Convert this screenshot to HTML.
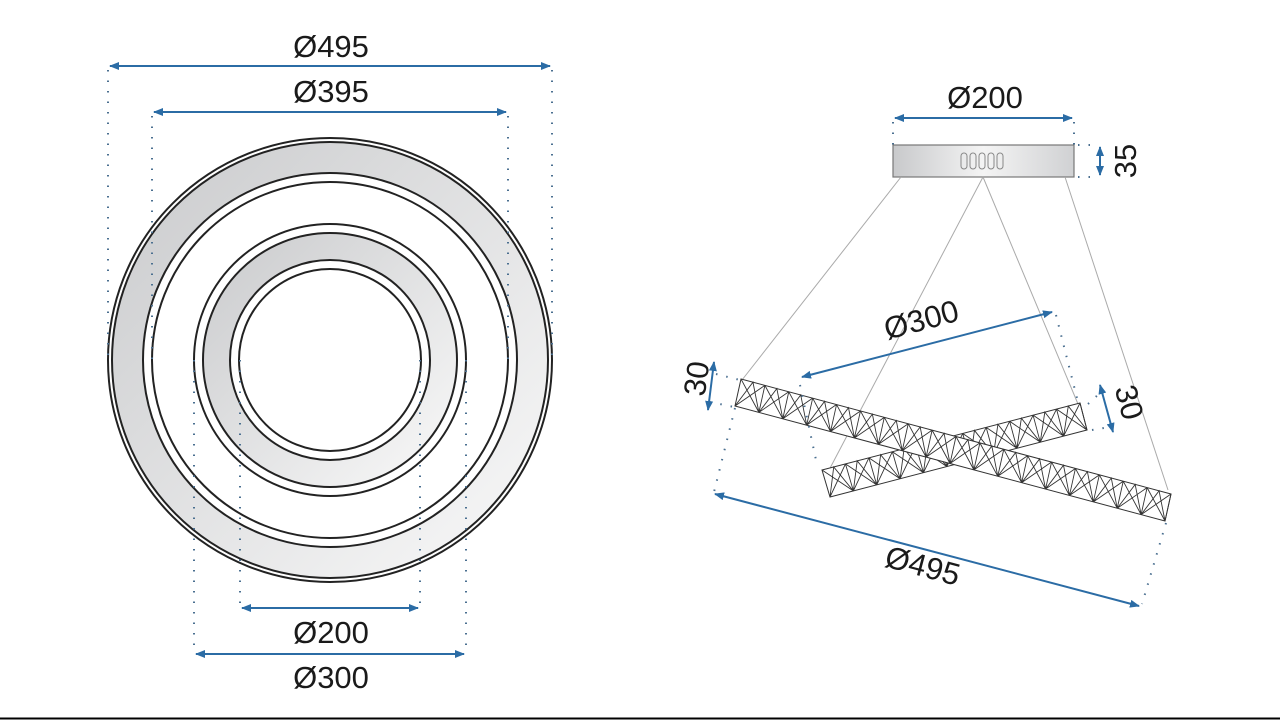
<!DOCTYPE html>
<html><head><meta charset="utf-8"><style>
html,body{margin:0;padding:0;background:#fff;width:1280px;height:720px;overflow:hidden}
svg{display:block}
text{font-family:"Liberation Sans",sans-serif;fill:#1a1a1a}
</style></head><body>
<svg id="s" width="1280" height="720" viewBox="0 0 1280 720" xmlns="http://www.w3.org/2000/svg">
<defs>
<linearGradient id="g" x1="0" y1="0" x2="1" y2="1">
<stop offset="0" stop-color="#c9cacc"/><stop offset="1" stop-color="#fafafa"/></linearGradient>
<linearGradient id="gc" x1="0" y1="0" x2="1" y2="0">
<stop offset="0" stop-color="#c8c9cb"/><stop offset="0.5" stop-color="#f4f4f4"/><stop offset="1" stop-color="#d0d1d3"/></linearGradient>
<marker id="a" viewBox="0 0 10 10" refX="9" refY="5" markerWidth="5" markerHeight="5" orient="auto-start-reverse"><path d="M0,1 L10,5 L0,9 z" fill="#2b6ca5"/></marker>
</defs>
<g stroke="#222" stroke-width="2">
<circle cx="330" cy="360" r="222" fill="#fff"/>
<circle cx="330" cy="360" r="218" fill="url(#g)"/>
<circle cx="330" cy="360" r="187" fill="#fff"/>
<circle cx="330" cy="360" r="178" fill="#fff"/>
<circle cx="330" cy="360" r="136" fill="#fff"/>
<circle cx="330" cy="360" r="127" fill="url(#g)"/>
<circle cx="330" cy="360" r="100" fill="#fff"/>
<circle cx="330" cy="360" r="91" fill="#fff"/>
</g>
<g stroke="#4a6f90" stroke-width="2" stroke-dasharray="1.5 9" fill="none">
<line x1="108" y1="70" x2="108" y2="360"/><line x1="552" y1="70" x2="552" y2="360"/>
<line x1="152" y1="116" x2="152" y2="360"/><line x1="508" y1="116" x2="508" y2="360"/>
<line x1="240" y1="360" x2="240" y2="605"/><line x1="420" y1="360" x2="420" y2="605"/>
<line x1="194" y1="360" x2="194" y2="650"/><line x1="466" y1="360" x2="466" y2="650"/>
</g>
<g stroke="#2b6ca5" stroke-width="2" marker-start="url(#a)" marker-end="url(#a)">
<line x1="110" y1="66" x2="550" y2="66"/>
<line x1="154" y1="112" x2="506" y2="112"/>
<line x1="242" y1="608" x2="418" y2="608"/>
<line x1="196" y1="654" x2="464" y2="654"/>
</g>
<g font-size="31" text-anchor="middle">
<text x="331" y="57">Ø495</text>
<text x="331" y="102">Ø395</text>
<text x="331" y="643">Ø200</text>
<text x="331" y="688">Ø300</text>
</g>
<rect x="893" y="145" width="181" height="32" fill="url(#gc)" stroke="#777" stroke-width="1.2"/>
<g fill="none" stroke="#888" stroke-width="1">
<rect x="961" y="153" width="6" height="16" rx="3"/><rect x="970" y="153" width="6" height="16" rx="3"/><rect x="979" y="153" width="6" height="16" rx="3"/><rect x="988" y="153" width="6" height="16" rx="3"/><rect x="997" y="153" width="6" height="16" rx="3"/>
</g>
<g stroke="#aaa" stroke-width="1">
<line x1="901" y1="177" x2="742" y2="380"/>
<line x1="983" y1="177" x2="828" y2="472"/>
<line x1="983" y1="177" x2="1078" y2="404"/>
<line x1="1065" y1="177" x2="1168" y2="490"/>
</g>
<g id="bars" stroke="#333" stroke-width="1" fill="#fff"></g>
<g stroke="#4a6f90" stroke-width="2" stroke-dasharray="1.5 9" fill="none">
<line x1="893" y1="122" x2="893" y2="145"/><line x1="1074" y1="122" x2="1074" y2="145"/>
<line x1="1078" y1="145" x2="1098" y2="145"/><line x1="1078" y1="177" x2="1098" y2="177"/>
<line x1="800" y1="385" x2="816" y2="460"/>
<line x1="1056" y1="315" x2="1078" y2="402"/>
<line x1="735" y1="408" x2="714" y2="492"/>
<line x1="1166" y1="523" x2="1142" y2="604"/>
<line x1="716" y1="374" x2="740" y2="380"/><line x1="710" y1="402" x2="734" y2="407"/>
<line x1="1088" y1="404" x2="1100" y2="393"/><line x1="1092" y1="430" x2="1110" y2="427"/>
</g>
<g stroke="#2b6ca5" stroke-width="2" marker-start="url(#a)" marker-end="url(#a)">
<line x1="895" y1="118" x2="1072" y2="118"/>
<line x1="1100" y1="147" x2="1100" y2="175"/>
<line x1="802" y1="377" x2="1052" y2="312"/>
<line x1="715" y1="494" x2="1139" y2="606"/>
<line x1="714" y1="362" x2="708" y2="410"/>
<line x1="1100" y1="385" x2="1113" y2="432"/>
</g>
<g font-size="31" text-anchor="middle">
<text x="985" y="108">Ø200</text>
<text transform="translate(1136,161) rotate(-90)">35</text>
<text transform="translate(924,330) rotate(-15)">Ø300</text>
<text transform="translate(920,576) rotate(15)">Ø495</text>
<text transform="translate(707,380) rotate(-82)">30</text>
<text transform="translate(1119,405) rotate(75)">30</text>
</g>
<line x1="0" y1="718.5" x2="1280" y2="718.5" stroke="#000" stroke-width="2"/>
</svg>
<script>
(function(){
var g=document.getElementById('bars'),ns='http://www.w3.org/2000/svg';
function bar(tl,bl,tr,br,n){
 var p=document.createElementNS(ns,'polygon');
 p.setAttribute('points',[tl,tr,br,bl].map(function(q){return q.join(',')}).join(' '));
 g.appendChild(p);
 var d='';
 function L(a,b,t){return [a[0]+(b[0]-a[0])*t,a[1]+(b[1]-a[1])*t];}
 for(var i=0;i<n;i++){
  var t0=i/n,t1=(i+1)/n,tm=(i+.5)/n;
  var a=L(tl,tr,t0),b=L(tl,tr,t1),c=L(bl,br,t0),e=L(bl,br,t1),mt=L(tl,tr,tm);
  d+='M'+a+'L'+e+'M'+b+'L'+c+'M'+c+'L'+mt+'L'+e+'M'+b+'L'+e;
 }
 var path=document.createElementNS(ns,'path');path.setAttribute('d',d);path.setAttribute('fill','none');
 path.setAttribute('stroke-width','0.9');g.appendChild(path);
}
bar([822,470],[830,497],[1080,403],[1087,430],11);
bar([741,379],[735,406],[1171,494],[1165,521],18);
})();
</script>
</body></html>
